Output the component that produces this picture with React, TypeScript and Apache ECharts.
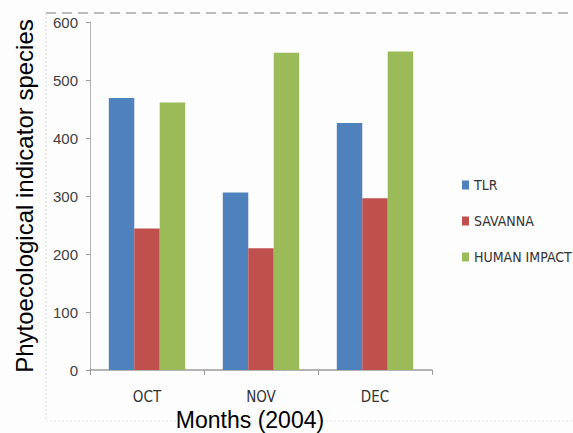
import React, { useEffect, useRef } from "react";
import * as echarts from "echarts";

const months = ["OCT", "NOV", "DEC"];
const tlr = [469, 306, 426];
const savanna = [244, 210, 296];
const humanImpact = [461, 547, 549];
const yTicks = { min: 0, max: 600, interval: 100 };

const condensedFont = "'DejaVu Sans Condensed', 'Liberation Sans Narrow', sans-serif";
const titleFont = "'Liberation Sans', Arial, sans-serif";

export default function App() {
  const ref = useRef<HTMLDivElement>(null);

  useEffect(() => {
    if (!ref.current) return;
    const chart = echarts.init(ref.current, undefined, { renderer: "svg" });
    chart.setOption({
      animation: false,
      backgroundColor: "#fdfdfd",
      grid: { left: 90, right: 141, top: 22, bottom: 63 },
      legend: {
        orient: "vertical",
        left: 457,
        top: 173,
        icon: "rect",
        itemWidth: 7,
        itemHeight: 9,
        itemGap: 22,
        textStyle: { fontFamily: condensedFont, fontSize: 14, color: "#333", lineHeight: 14 },
        data: ["TLR", "SAVANNA", "HUMAN IMPACT"],
      },
      xAxis: {
        type: "category",
        data: months,
        axisLine: { lineStyle: { color: "#9a9a9a", width: 1.5 } },
        axisTick: { show: true, length: 5, lineStyle: { color: "#9a9a9a" } },
        axisLabel: { fontFamily: condensedFont, fontSize: 15, color: "#333", margin: 20, lineHeight: 13 },
      },
      yAxis: {
        type: "value",
        min: yTicks.min,
        max: yTicks.max,
        interval: yTicks.interval,
        splitLine: { show: false },
        axisLine: { show: true, lineStyle: { color: "#b0b0b0" } },
        axisTick: { show: true, length: 4, lineStyle: { color: "#9a9a9a" } },
        axisLabel: { fontFamily: titleFont, fontSize: 15, color: "#404040", margin: 12 },
      },
      series: [
        { name: "TLR", type: "bar", data: tlr, itemStyle: { color: "#4f81bd" }, barGap: "0%", barCategoryGap: "33%" },
        { name: "SAVANNA", type: "bar", data: savanna, itemStyle: { color: "#c0504d" } },
        { name: "HUMAN IMPACT", type: "bar", data: humanImpact, itemStyle: { color: "#9bbb59" } },
      ],
      graphic: [
        {
          type: "line",
          shape: { x1: 46, y1: 13, x2: 573, y2: 13 },
          style: { stroke: "#7a7a7a", lineWidth: 1.2, lineDash: [10, 6] },
        },
        {
          type: "line",
          shape: { x1: 46, y1: 13, x2: 46, y2: 421 },
          style: { stroke: "#d8d8d8", lineWidth: 1, lineDash: [2, 2] },
        },
        {
          type: "line",
          shape: { x1: 46, y1: 421, x2: 573, y2: 421 },
          style: { stroke: "#e4e4e4", lineWidth: 1, lineDash: [2, 2] },
        },
        {
          type: "text",
          x: 24,
          y: 196,
          rotation: Math.PI / 2,
          style: {
            text: "Phytoecological indicator species",
            fontFamily: titleFont,
            fontSize: 24,
            fill: "#000",
            textAlign: "center",
            textVerticalAlign: "middle",
          },
        },
        {
          type: "text",
          x: 250,
          y: 420,
          style: {
            text: "Months (2004)",
            fontFamily: titleFont,
            fontSize: 23,
            fill: "#000",
            textAlign: "center",
            textVerticalAlign: "middle",
          },
        },
      ],
    });
    return () => chart.dispose();
  }, []);

  return <div ref={ref} style={{ width: 573, height: 433, position: "absolute", left: 0, top: 0 }} />;
}
